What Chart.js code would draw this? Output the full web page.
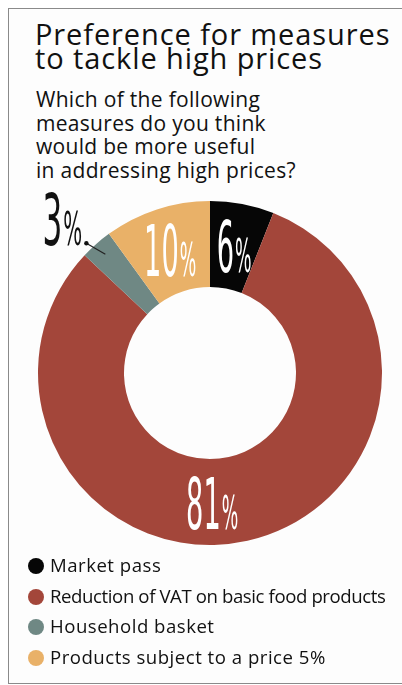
<!DOCTYPE html>
<html>
<head>
<meta charset="utf-8">
<script src="https://cdn.jsdelivr.net/npm/chart.js@4.4.1/dist/chart.umd.min.js"></script>
<style>
    html, body { margin: 0; padding: 0; background: #ffffff; }
    body { width: 402px; height: 685px; position: relative; overflow: hidden; font-family: "Open Sans", sans-serif; }
    #frame
    {
        position: absolute; left: 8px; top: 8px; width: 400px; height: 674px;
        border-left: 1px solid #8a8a8a; border-top: 1px solid #8a8a8a; border-bottom: 1px solid #8a8a8a;
        background: #fdfdfd;
    }
    #title
    {
        position: absolute; left: 35px; top: 22px; margin: 0;
        font-size: 29px; font-weight: 400; line-height: 24px; color: #111; letter-spacing: 0.9px;
    }
    #subtitle
    {
        position: absolute; left: 36px; top: 88px; margin: 0;
        font-size: 21px; line-height: 23.5px; color: #111; letter-spacing: 0.3px;
    }
    #chartBox { position: absolute; left: 0; top: 185px; width: 402px; height: 376px; }
    #legend { position: absolute; left: 28px; top: 549px; margin: 0; padding: 0; list-style: none; }
    #legend li { height: 30.7px; line-height: 31px; font-size: 18.6px; color: #111; white-space: nowrap; letter-spacing: 0.5px; }
    #legend li span
    {
        display: inline-block; width: 16px; height: 16px; border-radius: 50%;
        margin-right: 6px; vertical-align: -2px;
    }
</style>
</head>
<body>
<div id="frame"></div>
<h1 id="title">Preference for measures<br>to tackle high prices</h1>
<p id="subtitle">Which of the following<br>measures do you think<br>would be more useful<br>in addressing high prices?</p>
<div id="chartBox"><canvas id="donut"></canvas></div>
<ul id="legend"></ul>
<script>
    const labels = ["Market pass", "Reduction of VAT on basic food products", "Household basket", "Products subject to a price 5%"];
    const values = [6, 81, 3, 10];
    const colors = ["#060606", "#a3463a", "#6f8884", "#e9b168"];
    const valueText = ["6", "81", "3", "10"];

    // legend
    const legendEl = document.getElementById("legend");
    labels.forEach(function(l, i)
    {
        const li = document.createElement("li");
        li.innerHTML = '<span style="background:' + colors[i] + '"></span>' + l;
        if (i === 1) { li.style.letterSpacing = "-0.4px"; }
        legendEl.appendChild(li);
    });

    // percent labels drawn on the slices
    const pctLabels =
    {
        id: "pctLabels",
        afterDatasetsDraw: function(chart)
        {
            const ctx = chart.ctx;
            const arcs = chart.getDatasetMeta(0).data;
            arcs.forEach(function(arc, i)
            {
                const p = arc.getProps(["x", "y", "startAngle", "endAngle", "innerRadius", "outerRadius"], true);
                const mid = (p.startAngle + p.endAngle) / 2;
                let cx, cy, color = "#ffffff";
                if (values[i] < 5)
                {
                    // small slice: label outside with leader line
                    const r1 = p.outerRadius * 0.92;
                    const x1 = p.x + Math.cos(mid) * r1;
                    const y1 = p.y + Math.sin(mid) * r1;
                    const x2 = x1 - 19, y2 = y1 - 11;
                    ctx.save();
                    ctx.strokeStyle = "#222";
                    ctx.lineWidth = 1.2;
                    ctx.beginPath();
                    ctx.moveTo(x1, y1);
                    ctx.lineTo(x2, y2);
                    ctx.stroke();
                    ctx.fillStyle = "#111";
                    ctx.beginPath();
                    ctx.arc(x2, y2, 2.2, 0, Math.PI * 2);
                    ctx.fill();
                    ctx.restore();
                    cx = x2 - 24; cy = y2 - 24;
                    color = "#111";
                }
                else
                {
                    const r = (p.innerRadius + p.outerRadius) / 2;
                    cx = p.x + Math.cos(mid) * r;
                    cy = p.y + Math.sin(mid) * r;
                    if (i === 1) { cx -= 26; cy += 4; }
                }
                drawPct(ctx, valueText[i], cx, cy, color, values[i] < 5 ? 0.48 : 0.42);
            });
        }
    };

    function drawPct(ctx, num, cx, cy, color, sx)
    {
        const fBig = "72px 'Liberation Sans Narrow', 'DejaVu Sans Condensed', sans-serif";
        const fSmall = "46px 'Liberation Sans Narrow', 'DejaVu Sans Condensed', sans-serif";
        ctx.save();
        ctx.fillStyle = color;
        ctx.textBaseline = "alphabetic";
        ctx.font = fBig;
        const wNum = ctx.measureText(num).width * sx;
        ctx.font = fSmall;
        const wPct = ctx.measureText("%").width * sx;
        const left = cx - (wNum + wPct + 1) / 2;
        const base = cy + 26;
        ctx.translate(left, base);
        ctx.scale(sx, 1);
        ctx.font = fBig;
        ctx.fillText(num, 0, 0);
        ctx.font = fSmall;
        ctx.fillText("%", (wNum + 1) / sx, 0);
        ctx.restore();
    }

    new Chart(document.getElementById("donut").getContext("2d"),
    {
        type: "doughnut",
        data:
        {
            labels: labels,
            datasets: [
                {
                    data: values,
                    backgroundColor: colors,
                    borderWidth: 0
                }
            ]
        },
        options:
        {
            responsive: true,
            maintainAspectRatio: false,
            animation: false,
            cutout: "50%",
            layout: { padding: { left: 38, right: 20, top: 16, bottom: 16 } },
            plugins:
            {
                legend: { display: false },
                tooltip: { enabled: false }
            }
        },
        plugins: [pctLabels]
    });
</script>
</body>
</html>
